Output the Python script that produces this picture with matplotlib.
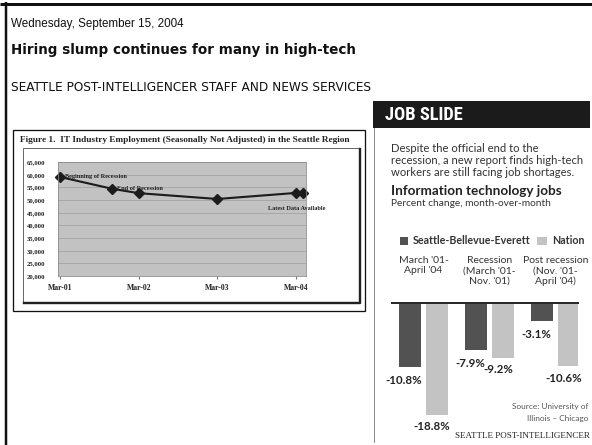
import matplotlib
matplotlib.use("Agg")
import matplotlib.pyplot as plt
from matplotlib.patches import Rectangle
from matplotlib.transforms import blended_transform_factory

# IT employment in the Seattle region (months after Mar-01, jobs)
emp_month = [0, 8, 12, 24, 36, 37]
emp_jobs = [59100, 54400, 52700, 50400, 52800, 52800]
emp_ticks = [0, 12, 24, 36]
emp_tick_labels = ["Mar-01", "Mar-02", "Mar-03", "Mar-04"]
y_ticks = list(range(20000, 65001, 5000))

# Job slide: percent change by period
periods = ["March '01-\nApril '04",
           "Recession\n(March '01-\nNov. '01)",
           "Post recession\n(Nov. '01-\nApril '04)"]
seattle = [-10.8, -7.9, -3.1]
nation = [-18.8, -9.2, -10.6]

W, H = 592, 445
fig = plt.figure(figsize=(W / 100, H / 100), dpi=100)
PT = 0.72  # px -> pt at 100 dpi

# page layer in pixel coordinates
pg = fig.add_axes([0, 0, 1, 1])
pg.set_xlim(0, W)
pg.set_ylim(H, 0)
pg.axis("off")

def box(x0, y0, x1, y1, **kw):
    pg.add_patch(Rectangle((x0, y0), x1 - x0, y1 - y0, **kw))

pg.plot([0, W], [3.5, 3.5], color="#111", lw=3 * PT, solid_capstyle="butt")
pg.plot([6, 6], [2, H], color="#111", lw=2.5 * PT, solid_capstyle="butt")

pg.text(11, 27, "Wednesday, September 15, 2004", family="Liberation Sans",
        fontsize=11.6 * PT, color="#111", va="baseline")
pg.text(11, 54, "Hiring slump continues for many in high-tech",
        family="DejaVu Sans", weight="bold", fontsize=13.5 * PT,
        color="#111", va="baseline")
pg.text(11, 91, "SEATTLE POST-INTELLIGENCER STAFF AND NEWS SERVICES",
        family="DejaVu Sans", fontsize=12.1 * PT, color="#111",
        va="baseline", zorder=2)

# left figure frame
box(13, 130, 365, 311, fill=False, ec="#111", lw=1.3 * PT)
box(23, 148, 360, 303, fill=False, ec="#444", lw=0.8 * PT)
pg.plot([360, 360, 24], [149, 303, 303], color="#222", lw=2.4 * PT)
pg.text(185, 140, "Figure 1.  IT Industry Employment (Seasonally Not Adjusted) in the Seattle Region",
        family="Liberation Serif", weight="bold", fontsize=9.3 * PT,
        color="#222", ha="center", va="center")

# line chart
ax = fig.add_axes([58 / W, (H - 276) / H, 248 / W, 114 / H])
ax.set_facecolor("#c2c2c2")
ax.set_xlim(-0.3, 37.5)
ax.set_ylim(20000, 65000)
ax.set_yticks(y_ticks)
ax.set_yticklabels([f"{v:,}" for v in y_ticks])
ax.set_xticks(emp_ticks)
ax.set_xticklabels(emp_tick_labels)
ax.yaxis.grid(True, color="#a6a6a6", lw=0.9 * PT)
ax.set_axisbelow(True)
for s in ax.spines.values():
    s.set_color("#8a8a8a")
    s.set_linewidth(0.8 * PT)
ax.tick_params(axis="y", length=0, pad=9)
ax.tick_params(axis="x", length=2, color="#777", pad=4)
for lab in ax.get_yticklabels():
    lab.set_family("Liberation Serif"); lab.set_weight("bold")
    lab.set_fontsize(6.6 * PT); lab.set_color("#222")
for lab in ax.get_xticklabels():
    lab.set_family("Liberation Serif"); lab.set_weight("bold")
    lab.set_fontsize(7.8 * PT); lab.set_color("#222")

ax.plot(emp_month, emp_jobs, color="#1c1c1c", lw=2.1 * PT,
        marker="D", ms=6.5 * PT, mfc="#1c1c1c", mec="#1c1c1c", clip_on=False)
note = dict(family="Liberation Serif", weight="bold", fontsize=6.3 * PT,
            color="#222", va="center")
ax.annotate("Beginning of Recession", (emp_month[0], emp_jobs[0]),
            xytext=(5, 0), textcoords="offset pixels", **note)
ax.annotate("End of Recession", (emp_month[1], emp_jobs[1]),
            xytext=(5, 0), textcoords="offset pixels", **note)
ax.annotate("Latest Data Available", (emp_month[-1], emp_jobs[-1]),
            xytext=(-6, -16), textcoords="offset pixels", ha="center", **note)

# job slide panel
box(371, 78, W, H, fc="white", ec="none", zorder=3)
box(373, 101, 590, 128, fc="#1b1b1b", ec="none", zorder=4)
pg.plot([373.5, 373.5], [128, 442], color="#8a8a8a", lw=1 * PT, zorder=4)
pg.text(385, 115, "JOB SLIDE", family=["Roboto Condensed", "Roboto"],
        weight="bold", fontsize=18.5 * PT, color="white", va="center", zorder=5)

sans = ["Lato", "DejaVu Sans"]
body = dict(family=sans, color="#333", va="center", zorder=5)
for i, line in enumerate(["Despite the official end to the",
                          "recession, a new report finds high-tech",
                          "workers are still facing job shortages."]):
    pg.text(391, 148 + 12 * i, line, fontsize=11.3 * PT, **body)
pg.text(391, 191, "Information technology jobs", fontsize=13.5 * PT,
        weight="bold", family=sans, color="#222", va="center", zorder=5)
pg.text(391, 204, "Percent change, month-over-month", fontsize=10.1 * PT, **body)

dark, light = "#525252", "#c3c3c3"
box(400, 237, 408, 245, fc=dark, ec="none", zorder=5)
pg.text(413, 241, "Seattle-Bellevue-Everett", fontsize=10.6 * PT,
        weight="bold", family=sans, color="#333", va="center", zorder=5)
box(537, 237, 547, 245, fc=light, ec="none", zorder=5)
pg.text(552, 241, "Nation", fontsize=10.6 * PT,
        weight="bold", family=sans, color="#333", va="center", zorder=5)

# bar chart: 1 unit = 66 px, axes top at the zero line
bx = fig.add_axes([392 / W, 0, 186 / W, (H - 303) / H], zorder=6)
bx.patch.set_alpha(0)
bx.axis("off")
bx.set_xlim(-0.273, 2.545)
bx.set_ylim(-(H - 303) / 5.95, 0)
pos = list(range(len(periods)))
off = 27 / 66
bw = 22.5 / 66
bx.bar(pos, seattle, width=bw, color=dark)
bx.bar([p + off for p in pos], nation, width=bw, color=light)
bx.axhline(0, color="#2a2a2a", lw=2 * PT, clip_on=False)
val = dict(family=sans, weight="bold", fontsize=11.5 * PT, color="#222",
           ha="center", va="center", textcoords="offset pixels")
head = blended_transform_factory(bx.transData, pg.transData)
for p, s, n in zip(pos, seattle, nation):
    bx.annotate(f"{s}%", (p, s), xytext=(-6, -13), **val)
    bx.annotate(f"{n}%", (p + off, n), xytext=(-5, -12), **val)
    bx.text(p + off / 2, 256, periods[p], transform=head,
            family=sans, fontsize=10.4 * PT, color="#333", ha="center",
            va="top", linespacing=1.2, clip_on=False)

pg.text(588, 407, "Source: University of", family=sans, fontsize=8.3 * PT,
        color="#555", ha="right", va="center", zorder=5)
pg.text(588, 418, "Illinois \u2013 Chicago", family=sans, fontsize=8.3 * PT,
        color="#555", ha="right", va="center", zorder=5)
pg.text(522, 436, "SEATTLE POST-INTELLIGENCER", family="Liberation Serif",
        fontsize=9 * PT, color="#222", ha="center", va="center", zorder=5)

fig.savefig("out.png", dpi=100)
